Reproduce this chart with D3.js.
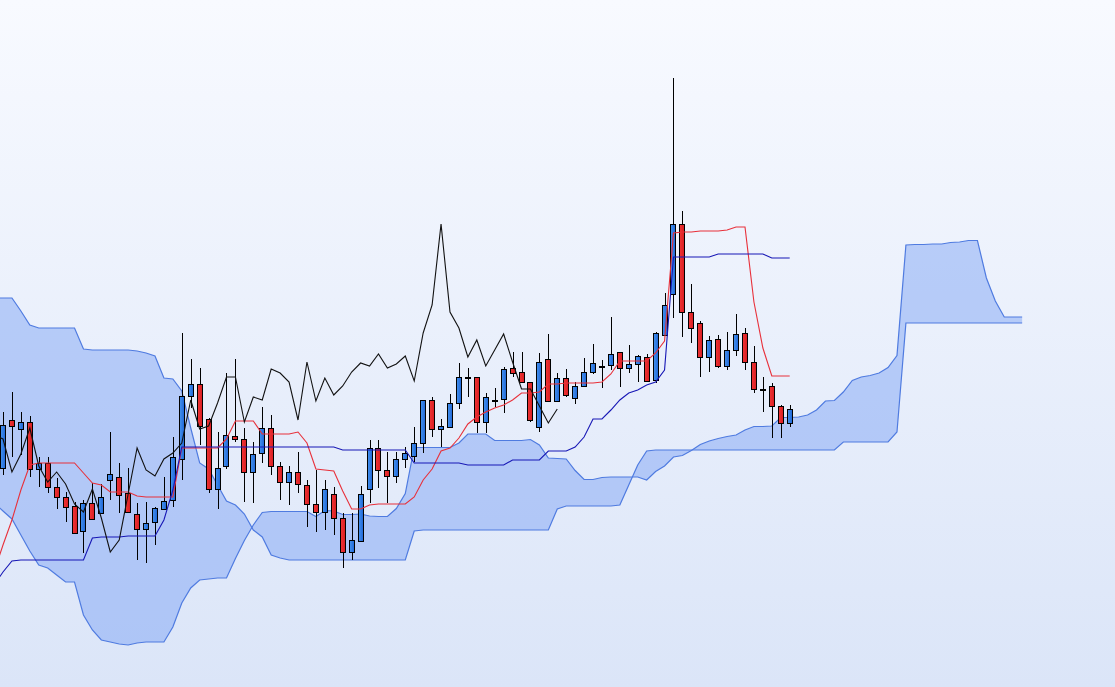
<!DOCTYPE html>
<html>
<head>
<meta charset="utf-8">
<script src="https://cdn.jsdelivr.net/npm/d3@7/dist/d3.min.js"></script>
<style>
  html, body { margin: 0; padding: 0; overflow: hidden; background: #eef3fd; }
</style>
</head>
<body>
<div id="chart-container"></div>
<script>
// price bars 1..89 (oldest first)
const opens = [532,580,571,578,531,537,513,503,494,469,497,487,520,523,507,486,471,478,491,500,
               541,604,616,581,511,534,564,561,528,547,572,534,518,528,515,496,488,506,482,448,
               459,511,552,530,524,541,544,557,600,571,573,597,623,623,578,600,601,632,628,618,
               573,641,599,622,602,614,628,634,635,648,632,636,643,620,665,706,776,688,677,643,
               661,634,650,667,638,611,614,594,577];
const highs = [588,608,588,584,543,543,522,508,498,500,517,516,568,537,532,497,498,493,523,563,
               667,641,632,582,568,627,641,572,558,593,585,538,534,548,520,530,520,513,487,487,
               514,560,560,548,548,553,573,600,603,581,606,637,632,623,607,612,633,648,648,618,
               647,666,627,631,618,642,656,640,683,648,655,645,646,668,707,922,789,716,679,664,
               665,668,686,672,654,623,617,595,595];
const lows = [525,543,545,523,513,507,491,478,467,447,481,487,500,487,487,440,437,455,491,493,
              520,592,555,507,491,531,558,498,497,537,525,500,495,507,473,468,470,465,432,440,
              459,497,512,497,517,532,538,547,563,553,573,591,603,567,567,593,587,623,617,578,
              568,599,598,603,596,613,626,612,630,613,627,618,618,617,665,682,663,657,623,628,
              632,630,644,630,607,588,562,562,573];
const closes = [575,574,578,531,537,513,503,493,467,497,481,503,526,505,488,471,477,492,499,543,
                604,616,574,511,532,565,561,528,546,572,534,518,528,516,496,488,511,482,448,460,
                506,552,530,524,541,547,557,600,571,574,597,623,623,578,603,600,631,627,618,580,
                638,599,622,605,614,628,637,634,646,632,636,644,619,667,695,776,688,672,643,660,
                634,650,666,638,611,611,594,577,591];

// conversion line (9) and base line (26), bars 0..89
const tenkan = [428,455,480,510,535,537,537,537,537,537,527,517,515,508,508,508,504,503,503,503,
                503,552,552,552,552,552,561,579,579,579,566,566,566,566,568,557,531,530,529,509,
                491,491,495,496,496,496,496,503,520,531,549,552,562,576,583,588,592,595,600,607,
                607,608,616,616,617,617,617,617,618,626,639,639,639,639,647,659,767,768,768,769,
                769,769,770,773,773,698,652,624,624,624];
const kijun = [415,428,439,440,440,440,440,440,440,440,440,462,463,463,463,464,464,464,464,480,
               510,553,553,553,553,553,553,553,553,553,553,553,553,553,553,553,553,553,553,550,
               550,550,550,550,550,550,550,537,537,537,537,537,537,535,535,535,535,535,540,540,
               540,540,549,549,549,553,563,581,581,590,600,607,610,615,618,630,743,743,743,743,
               743,746,746,746,746,746,746,742,742,742];

// leading spans, positions 0..115 (26 bars ahead of the last bar)
const spanA = [497,489,481,465,449,435,432,425,418,418,385,370,360,358,356,355,357,358,358,358,
               373,397,412,420,421,422,422,441.5,459.5,475,487.5,488.5,488.5,488.5,488.5,488.5,483.5,489.5,489,485.5,
               485.5,486,484,483.5,483.5,491.5,506.5,552.5,552.5,552.5,552.5,552.5,557,566,566,566,559.5,559.5,559.5,559.5,
               560.5,555,542,541.5,541,529.5,520.5,520.5,522.5,523,523,523,523,520,528.5,534,543,544.5,549.5,555.5,
               559,561.5,563.5,565,570,573.5,573.5,574,582.5,582.5,583,585,590,599,599.5,608,619.5,623,624.5,627,
               632.5,644.5,755,755.5,755.5,756,756,757.5,758,759.5,759.5,722,699,683,683,683];
const spanB = [702,702,702,689,675,672,672,672,672,672,651,650,650,650,650,650,649,647,644,622,
               621,609,572,537,531,515,499,495,486,470,463,445,442,440,440,440,440,440,440,440,
               440,440,440,440,440,440,440,469,470,470,470,470,470,470,470,470,470,470,470,470,
               470,470,470,491,494,494,494,494,494,494,495,515,535,549,550,550,550,550,550,550,
               550,550,550,550,550,550,550,550,550,550,550,550,550,550,550,558,558,558,558,558,
               558,568,677,677,677,677,677,677,677,677,677,677,677,677,677,677];

const lagShift = 26;

document.addEventListener('DOMContentLoaded', function() {
    const width = 1115;
    const height = 687;

    const svg = d3.select("#chart-container")
                  .append("svg")
                  .attr("width", width)
                  .attr("height", height)
                  .style("display", "block");

    const defs = svg.append("defs");
    const grad = defs.append("linearGradient")
                     .attr("id", "bg")
                     .attr("x1", 0).attr("y1", 0)
                     .attr("x2", 0).attr("y2", 1);
    grad.append("stop").attr("offset", "0%").attr("stop-color", "#f8faff");
    grad.append("stop").attr("offset", "100%").attr("stop-color", "#dbe5f8");

    // slight left-to-right shading on the candle bodies
    function bodyGradient(id, light, dark) {
        const lg = defs.append("linearGradient")
                       .attr("id", id)
                       .attr("x1", 0).attr("y1", 0)
                       .attr("x2", 1).attr("y2", 0);
        lg.append("stop").attr("offset", "0%").attr("stop-color", light);
        lg.append("stop").attr("offset", "100%").attr("stop-color", dark);
    }
    bodyGradient("up", "#4592ee", "#1f66d6");
    bodyGradient("down", "#f03535", "#d81d22");

    svg.append("rect")
       .attr("width", width)
       .attr("height", height)
       .attr("fill", "url(#bg)");

    const x = d3.scaleLinear().domain([1, 89]).range([3, 789.7]);
    const y = d3.scaleLinear().domain([313, 1000]).range([height, 0]);

    // cloud
    const cloud = spanA.map((a, j) => ({pos: j, a: a, b: spanB[j]}));

    svg.append("path")
       .datum(cloud)
       .attr("fill", "rgba(118,158,245,0.45)")
       .attr("d", d3.area()
                    .x(d => x(d.pos))
                    .y0(d => y(d.b))
                    .y1(d => y(d.a)));

    ["a", "b"].forEach(k => {
        svg.append("path")
           .datum(cloud)
           .attr("fill", "none")
           .attr("stroke", "#4f7be0")
           .attr("stroke-width", 1.2)
           .attr("d", d3.line().x(d => x(d.pos)).y(d => y(d[k])));
    });

    // candles
    const candles = opens.map((o, i) => ({
        bar: i + 1, open: o, high: highs[i], low: lows[i], close: closes[i]
    }));

    const cx = d => Math.round(x(d.bar));

    const g = svg.append("g").attr("shape-rendering", "crispEdges");

    g.selectAll(".wick")
     .data(candles)
     .enter().append("line")
     .attr("class", "wick")
     .attr("x1", d => cx(d) + 0.5)
     .attr("x2", d => cx(d) + 0.5)
     .attr("y1", d => y(d.high))
     .attr("y2", d => y(d.low))
     .attr("stroke", "#000")
     .attr("stroke-width", 1);

    g.selectAll(".body")
     .data(candles)
     .enter().append("rect")
     .attr("class", "body")
     .attr("x", d => cx(d) - 2.5)
     .attr("width", 5)
     .attr("y", d => Math.round(y(Math.max(d.open, d.close))) + 0.5)
     .attr("height", d => Math.max(1, Math.round(Math.abs(y(d.open) - y(d.close)))))
     .attr("fill", d => d.close >= d.open ? "url(#up)" : "url(#down)")
     .attr("stroke", "#000")
     .attr("stroke-width", 1);

    // lines
    const lineAt = d3.line().x(d => x(d[0])).y(d => y(d[1]));

    svg.append("path")
       .datum(tenkan.map((v, i) => [i, v]))
       .attr("fill", "none")
       .attr("stroke", "#e8303a")
       .attr("stroke-width", 1.1)
       .attr("d", lineAt);

    svg.append("path")
       .datum(kijun.map((v, i) => [i, v]))
       .attr("fill", "none")
       .attr("stroke", "#1717b5")
       .attr("stroke-width", 1.1)
       .attr("d", lineAt);

    svg.append("path")
       .datum(closes.map((v, i) => [i + 1 - lagShift, v]))
       .attr("fill", "none")
       .attr("stroke", "#111")
       .attr("stroke-width", 1.1)
       .attr("d", lineAt);
});
</script>
</body>
</html>
